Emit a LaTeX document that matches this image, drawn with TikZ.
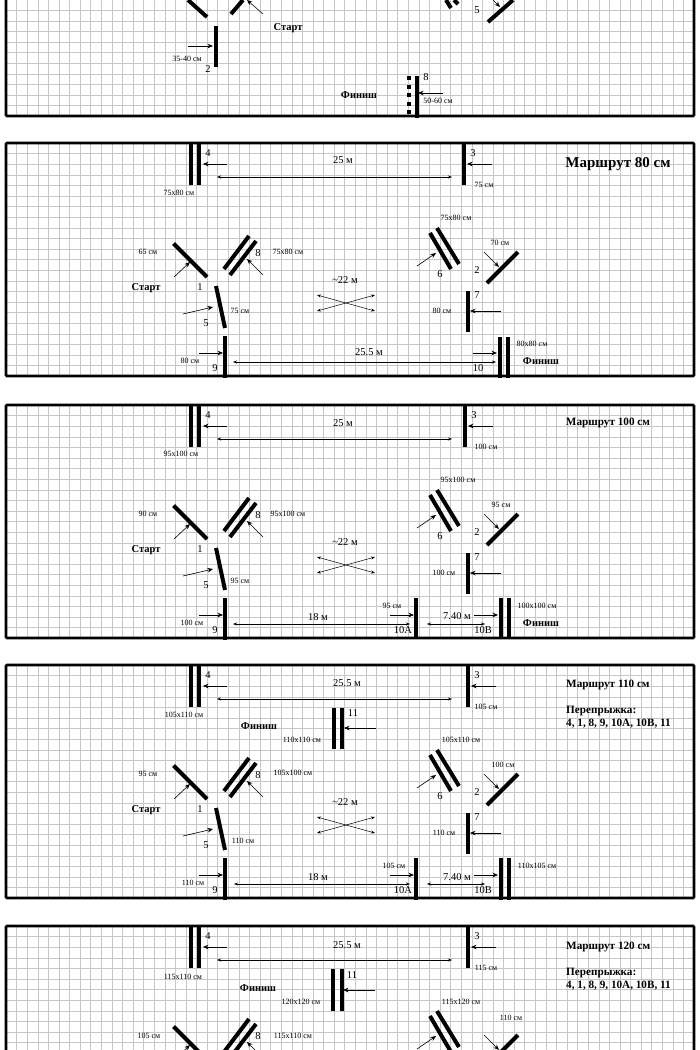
\documentclass[tikz,border=0pt]{standalone}
\usepackage{fontspec}
\setmainfont{Liberation Serif}
\usetikzlibrary{arrows.meta}
\tikzset{
  gridline/.style={draw=black!22,line width=.45pt},
  frame/.style={draw=black,line width=2.6pt,rounded corners=1pt},
  fence/.style={draw=black,line width=4pt},
  ptr/.style={-{Stealth[length=5.5pt,width=4.5pt]},line width=.6pt},
  span/.style={{Stealth[length=4pt,width=3pt]}-{Stealth[length=4pt,width=3pt]},line width=.5pt},
  small/.style={inner sep=0pt,font=\fontsize{8}{9}\selectfont},
  num/.style={inner sep=0pt,font=\fontsize{10.5}{12}\selectfont},
  dist/.style={inner sep=0pt,font=\fontsize{10.5}{12}\selectfont},
  place/.style={inner sep=0pt,font=\fontsize{10.5}{12}\selectfont\bfseries},
  route/.style={inner sep=0pt,font=\fontsize{11.2}{13}\selectfont\bfseries,align=left},
}
\begin{document}
\begin{tikzpicture}[x=1pt,y=-1pt]
  \clip (0,0) rectangle (700,1050);
  \fill[white] (0,0) rectangle (700,1050);

  % grid and frame
  \foreach \dy in {-260,0,262,522,783} {
    \begin{scope}[shift={(0,\dy)}]
      \foreach \i in {1,...,65}
        \draw[gridline] ({6+\i*10.585},143) -- ({6+\i*10.585},376);
      \foreach \j in {1,...,21}
        \draw[gridline] (6,{143+\j*10.6}) -- (694,{143+\j*10.6});
      \draw[frame] (6,143) rectangle (694,376);
    \end{scope}
  }

  % fences that all four routes share
  \foreach \dy/\n/\fx in {0/a/464,262/b/465,522/c/468,783/d/468} {
    \begin{scope}[shift={(0,\dy)},name prefix=\n-]
      % 4
      \draw[fence] (190.5,143) -- (190.5,185);
      \draw[fence] (198.5,143) -- (198.5,185);
      \draw[ptr] (227,164) -- (203,164);
      \node[num] (n4) at (208,153) {4};
      \draw[span] (217,177) -- (452,177);
      % 3
      \draw[fence] (\fx,143) -- (\fx,185);
      \draw[ptr] ({\fx+28},164) -- ({\fx+3},164);
      \node[num] (n3) at ({\fx+9},153) {3};
      % 1
      \draw[fence] (173.5,243.5) -- (207,277);
      \draw[ptr] (174,277) -- (190,262);
      % 8
      \draw[fence] (224,269) -- (249,236);
      \draw[fence] (230,275) -- (256,241);
      \draw[ptr] (263,275) -- (247,259);
      \node[num] (n8) at (258,253) {8};
      % 5
      \draw[fence] (216,286) -- (225,328);
      \draw[ptr] (183,314) -- (213,307);
      % 9
      \draw[fence] (224.5,336) -- (224.5,378);
      \draw[ptr] (199,353) -- (223,353);
      % crossing
      \draw[span] (317,295) -- (375,311);
      \draw[span] (317,311) -- (375,295);
      % 6
      \draw[fence] (430,233) -- (451,269);
      \draw[fence] (437,228) -- (459,264);
      \draw[ptr] (417,266) -- (436,253);
      % 2
      \draw[fence] (487,283) -- (518,252);
      \draw[ptr] (484,252) -- (499,267);
      % 7
      \draw[fence] (468,291) -- (468,332);
      \draw[ptr] (501,311) -- (470,311);
    \end{scope}
  }

  % numbers low in the panel, the last route has none on the page
  \foreach \dy/\n in {0/a,262/b,522/c} {
    \begin{scope}[shift={(0,\dy)},name prefix=\n-]
      \node[num] (n1) at (200,287) {1};
      \node[place] (start) at (146,288) {Старт};
      \node[num] (n5) at (206,323) {5};
      \node[num] (n9) at (215,368) {9};
      \node[dist] (d22) at (345,280) {\textasciitilde22 м};
      \node[num] (n6) at (440,274) {6};
      \node[num] (n2) at (477,270) {2};
      \node[num] (n7) at (477,295) {7};
    \end{scope}
  }

  % first route, cut off at the top
  \draw[fence] (188,0) -- (207,17);
  \draw[fence] (243,0) -- (231,14);
  \draw[ptr] (263,14) -- (247,0);
  \node[place] (start0) at (288,28) {Старт};
  \draw[fence] (216,26) -- (216,67);
  \draw[ptr] (188,46) -- (213,46);
  \node[small] (h2) at (187,59) {35-40 см};
  \node[num] (n2) at (208,69) {2};
  \draw[fence] (446,0) -- (451,8);
  \draw[fence] (454,0) -- (458,4);
  \node[num] (n5) at (477,10) {5};
  \draw[fence] (488,22) -- (513,0);
  \draw[ptr] (493,0) -- (500,7);
  \node[place] (finish0) at (359,95) {Финиш};
  \foreach \k in {78,86.5,95,103.5,112}
    \fill (406.8,{\k-2}) rectangle (411.2,{\k+2});
  \draw[fence] (417,76) -- (417,118);
  \draw[ptr] (443,93) -- (418,93);
  \node[num] (n8) at (426,77) {8};
  \node[small] (h8) at (438,101) {50-60 см};

  % route 80
  \node[inner sep=0pt,font=\fontsize{15}{16}\selectfont\bfseries] (title80) at (618,164) {Маршрут 80 см};
  \node[dist] (d25) at (343,160) {25 м};
  \node[small] (h4) at (179,193) {75x80 см};
  \node[small] (h3) at (484,185) {75 см};
  \node[small] (h1) at (148,252) {65 см};
  \node[small] (h8b) at (288,252) {75x80 см};
  \node[small] (h5) at (240,311) {75 см};
  \node[small] (h9) at (190,361) {80 см};
  \node[small] (h6) at (456,218) {75x80 см};
  \node[small] (h2b) at (500,243) {70 см};
  \node[small] (h7) at (442,311) {80 см};
  \draw[span] (233,362) -- (496,362);
  \node[dist] (d255) at (369,352) {25.5 м};
  \draw[fence] (500,337) -- (500,378);
  \draw[fence] (508,337) -- (508,378);
  \draw[ptr] (473,353) -- (497,353);
  \node[num] (n10) at (478,368) {10};
  \node[small] (h10) at (532,344) {80x80 см};
  \node[place] (finish80) at (541,361) {Финиш};

  % route 100
  \node[route] (title100) at (608,423) {Маршрут 100 см};
  \node[dist] (d25b) at (343,423) {25 м};
  \node[small] (i4) at (181,454) {95x100 см};
  \node[small] (i3) at (486,447) {100 см};
  \node[small] (i1) at (148,514) {90 см};
  \node[small] (i8) at (288,514) {95x100 см};
  \node[small] (i5) at (240,581) {95 см};
  \node[small] (i9) at (192,623) {100 см};
  \node[small] (i6) at (458,480) {95x100 см};
  \node[small] (i2) at (501,505) {95 см};
  \node[small] (i7) at (444,573) {100 см};
  \draw[span] (233,624) -- (410,624);
  \node[dist] (d18) at (318,617) {18 м};
  \draw[fence] (416,598) -- (416,639);
  \draw[ptr] (390,615) -- (414,615);
  \node[small] (i10a) at (392,606) {95 см};
  \node[num] (n10a) at (403,630) {10A};
  \draw[span] (427,624) -- (485,624);
  \node[dist] (d74) at (457,616) {7.40 м};
  \draw[ptr] (474,615) -- (498,615);
  \node[num] (n10b) at (483,630) {10B};
  \draw[fence] (500.5,598) -- (500.5,639);
  \draw[fence] (508.5,598) -- (508.5,639);
  \node[small] (i10b) at (537,606) {100x100 см};
  \node[place] (finish100) at (541,623) {Финиш};

  % route 110
  \node[route,anchor=north west] (title110) at (566,680) {Маршрут 110 см\\[13pt]Перепрыжка:\\4, 1, 8, 9, 10A, 10B, 11};
  \node[dist] (d25c) at (347,683) {25.5 м};
  \node[small] (j4) at (184,715) {105x110 см};
  \node[small] (j3) at (486,707) {105 см};
  \node[place] (finish110) at (259,726) {Финиш};
  \draw[fence] (334,708) -- (334,749);
  \draw[fence] (342,708) -- (342,749);
  \draw[ptr] (376,728) -- (344,728);
  \node[num] (n11) at (353,713) {11};
  \node[small] (j11) at (302,740) {110x110 см};
  \node[small] (j1) at (148,774) {95 см};
  \node[small] (j8) at (293,773) {105x100 см};
  \node[small] (j5) at (243,841) {110 см};
  \node[small] (j9) at (193,883) {110 см};
  \node[small] (j6) at (461,740) {105x110 см};
  \node[small] (j2) at (503,765) {100 см};
  \node[small] (j7) at (444,833) {110 см};
  \draw[span] (234,884) -- (410,884);
  \node[dist] (d18c) at (318,877) {18 м};
  \draw[fence] (416,858) -- (416,900);
  \draw[ptr] (390,875) -- (414,875);
  \node[small] (j10a) at (394,866) {105 см};
  \node[num] (n10ac) at (403,890) {10A};
  \draw[span] (427,884) -- (485,884);
  \node[dist] (d74c) at (457,877) {7.40 м};
  \draw[ptr] (474,875) -- (498,875);
  \node[num] (n10bc) at (483,890) {10B};
  \draw[fence] (500.5,858) -- (500.5,900);
  \draw[fence] (508.5,858) -- (508.5,900);
  \node[small] (j10b) at (537,866) {110x105 см};

  % route 120, cut off at the bottom
  \node[route,anchor=north west] (title120) at (566,942) {Маршрут 120 см\\[13pt]Перепрыжка:\\4, 1, 8, 9, 10A, 10B, 11};
  \node[dist] (d25d) at (347,945) {25.5 м};
  \node[small] (k4) at (183,977) {115x110 см};
  \node[small] (k3) at (486,968) {115 см};
  \node[place] (finish120) at (258,988) {Финиш};
  \draw[fence] (333,969) -- (333,1011);
  \draw[fence] (342,969) -- (342,1011);
  \draw[ptr] (375,990) -- (343,990);
  \node[num] (n11d) at (352,975) {11};
  \node[small] (k11) at (301,1002) {120x120 см};
  \node[small] (k1) at (149,1036) {105 см};
  \node[small] (k8) at (293,1036) {115x110 см};
  \node[small] (k6) at (461,1002) {115x120 см};
  \node[small] (k2) at (511,1018) {110 см};
\end{tikzpicture}
\end{document}
